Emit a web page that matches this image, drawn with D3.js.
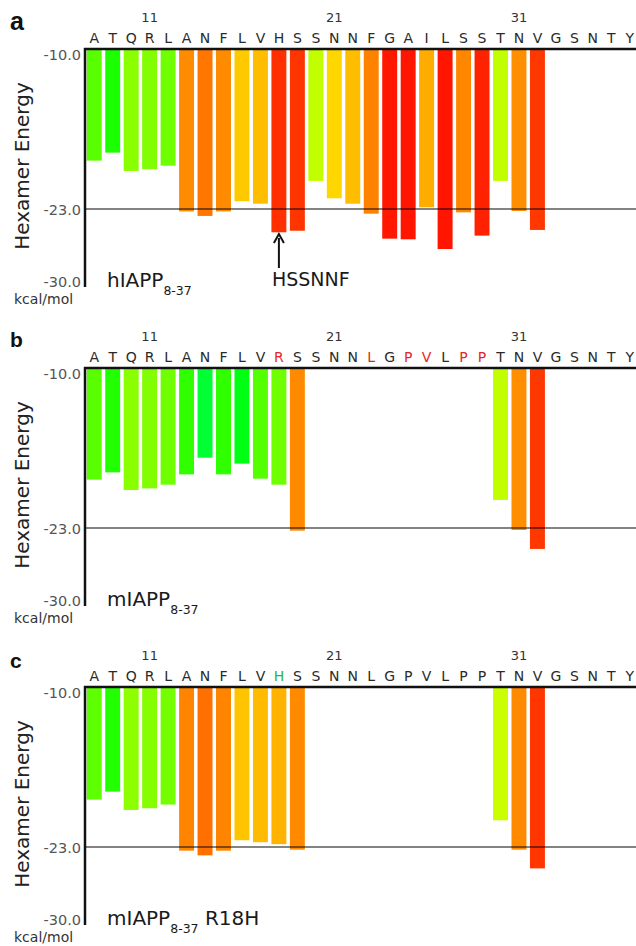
<!DOCTYPE html>
<html>
<head>
<meta charset="utf-8">
<script src="https://cdn.jsdelivr.net/npm/d3@7/dist/d3.min.js"></script>
<style>
  html, body { margin: 0; padding: 0; background: #fff; }
  svg { display: block; }
  text { font-family: "DejaVu Sans", Verdana, sans-serif; }
</style>
</head>
<body>
<svg id="chart" width="636" height="946"></svg>
<script>
// Sequences (residues 8-37)
const seqHuman   = ["A","T","Q","R","L","A","N","F","L","V","H","S","S","N","N","F","G","A","I","L","S","S","T","N","V","G","S","N","T","Y"];
const seqMouse   = ["A","T","Q","R","L","A","N","F","L","V","R","S","S","N","N","L","G","P","V","L","P","P","T","N","V","G","S","N","T","Y"];
const seqR18H    = ["A","T","Q","R","L","A","N","F","L","V","H","S","S","N","N","L","G","P","V","L","P","P","T","N","V","G","S","N","T","Y"];

// Hexamer energies (kcal/mol); null = no hexamer reported
const energyHuman = [-19.07,-18.42,-19.91,-19.77,-19.48,-23.22,-23.62,-23.22,-22.37,-22.57,
                     -25.09,-24.95,-20.72,-22.13,-22.57,-23.42,-25.66,-25.72,-22.86,-26.59,
                     -23.30,-25.39,-20.72,-23.18,-24.88,null,null,null,null,null];
const energyMouse = [-19.07,-18.48,-19.91,-19.78,-19.48,-18.64,-17.29,-18.64,-17.77,-18.99,
                     -19.48,-23.24,null,null,null,null,null,null,null,null,
                     null,null,-20.72,-23.18,-24.88,null,null,null,null,null];
const energyR18H  = [-19.15,-18.50,-19.99,-19.85,-19.55,-23.33,-23.75,-23.33,-22.45,-22.61,
                     -22.77,-23.24,null,null,null,null,null,null,null,null,
                     null,null,-20.83,-23.24,-24.92,null,null,null,null,null];

// Residue numbers marked above the sequence, first residue number, axis ticks
const residueMarks = [11, 21, 31];
const firstResidue = 8;
const yTicks = [-10, -23, -30];
const threshold = -23;

// Residues differing from the human sequence (red) and the back-mutation (green)
const mouseMutations = [10, 15, 17, 18, 20, 21];
const r18hMutations = [10];

const panels = [
  { tag: "a", seq: seqHuman, energy: energyHuman, name: "hIAPP", sub: "8-37", suffix: "", marks: [], markColor: null, top: 49, tagSize: 25, tagBase: 30 },
  { tag: "b", seq: seqMouse, energy: energyMouse, name: "mIAPP", sub: "8-37", suffix: "", marks: mouseMutations, markColor: "#e32626", top: 368, tagSize: 21, tagBase: 347 },
  { tag: "c", seq: seqR18H,  energy: energyR18H,  name: "mIAPP", sub: "8-37", suffix: " R18H", marks: r18hMutations, markColor: "#2fb52f", top: 687, tagSize: 21, tagBase: 668 }
];

const svg = d3.select("#chart");
const W = 636;
const axisX = 85;

const x = d3.scaleBand()
  .domain(d3.range(seqHuman.length))
  .range([axisX, axisX + 554])
  .paddingInner(0.19)
  .paddingOuter(0.095);

// Vertical scale relative to panel top (axis drawn non-uniformly below the -23 line)
const y = d3.scaleLinear().domain([-10, -23, -30]).range([0, 160, 238]);

// Energy -> hue colour coding (green = weak, red = strong)
const hue = d3.scaleLinear()
  .domain([-17.3, -18.5, -19.0, -19.9, -20.7, -22.1, -22.9, -23.2, -23.6, -24.9, -25.7])
  .range([132, 112, 100, 88, 75, 51, 40, 33, 28, 13, 5])
  .clamp(true);
const colorOf = v => d3.hsl(hue(v), 1, 0.5).formatHex();

panels.forEach(p => {
  const g = svg.append("g").attr("transform", `translate(0,${p.top})`);

  // panel tag
  svg.append("text")
    .attr("x", 10).attr("y", p.tagBase)
    .style("font-family", "'Liberation Sans', Arial, sans-serif")
    .style("font-weight", "bold")
    .style("font-size", p.tagSize + "px")
    .attr("fill", "#111")
    .text(p.tag);

  // residue numbers
  g.selectAll("text.num").data(residueMarks).enter().append("text")
    .attr("class", "num")
    .attr("x", d => x(d - firstResidue) + x.bandwidth() / 2)
    .attr("y", -27)
    .attr("text-anchor", "middle")
    .style("font-size", "13px")
    .attr("fill", "#333")
    .text(d => d);

  // sequence letters
  g.selectAll("text.res").data(p.seq).enter().append("text")
    .attr("class", "res")
    .attr("x", (d, i) => x(i) + x.bandwidth() / 2)
    .attr("y", -6)
    .attr("text-anchor", "middle")
    .style("font-size", "14px")
    .attr("fill", (d, i) => p.marks.includes(i) ? p.markColor : "#2a2a2a")
    .text(d => d);

  // bars
  const data = p.energy.map((v, i) => ({ i, v })).filter(d => d.v !== null);
  g.selectAll("rect.bar").data(data).enter().append("rect")
    .attr("class", "bar")
    .attr("x", d => x(d.i))
    .attr("width", x.bandwidth())
    .attr("y", y(-10))
    .attr("height", d => y(d.v) - y(-10))
    .attr("fill", d => colorOf(d.v));

  // threshold line
  g.append("line")
    .attr("x1", axisX).attr("x2", W)
    .attr("y1", y(threshold)).attr("y2", y(threshold))
    .attr("stroke", "rgba(0,0,0,0.65)")
    .attr("stroke-width", 1.6);

  // top axis line and left axis
  g.append("line")
    .attr("x1", axisX - 1).attr("x2", W)
    .attr("y1", y(-10)).attr("y2", y(-10))
    .attr("stroke", "#111").attr("stroke-width", 2.5);

  const yAxis = d3.axisLeft(y).tickValues(yTicks).tickSize(0).tickPadding(4)
    .tickFormat(d => d.toFixed(1));
  const ax = g.append("g").attr("transform", `translate(${axisX},0)`).call(yAxis);
  ax.select(".domain").attr("stroke", "#111").attr("stroke-width", 2.5).attr("d", `M0,${y(-10) - 1}V${y(-30)}`);
  ax.selectAll(".tick text")
    .style("font-family", "'DejaVu Sans', Verdana, sans-serif")
    .style("font-size", "14.5px")
    .attr("fill", "#555")
    .attr("dy", d => d === -10 ? "0.72em" : d === -30 ? "-0.05em" : "0.36em");

  // axis title and unit
  g.append("text")
    .attr("transform", `translate(29,117) rotate(-90)`)
    .attr("text-anchor", "middle")
    .style("font-size", "20px")
    .attr("fill", "#222")
    .text("Hexamer Energy");
  g.append("text")
    .attr("x", 14).attr("y", 255)
    .style("font-size", "14px")
    .attr("fill", "#333")
    .text("kcal/mol");

  // peptide label
  const lab = g.append("text")
    .attr("x", 107).attr("y", 238)
    .style("font-size", "20px")
    .attr("fill", "#1a1a1a");
  lab.append("tspan").text(p.name);
  lab.append("tspan").attr("dy", 8).style("font-size", "12.5px").text(p.sub);
  if (p.suffix) lab.append("tspan").attr("dy", -8).text(p.suffix);
});

// Annotation of the HSSNNF segment in the human panel
{
  const top = panels[0].top;
  const hx = x(10) + x.bandwidth() / 2;
  const g = svg.append("g").attr("transform", `translate(0,${top})`);
  g.append("line")
    .attr("x1", hx).attr("x2", hx)
    .attr("y1", 219).attr("y2", 189)
    .attr("stroke", "#111").attr("stroke-width", 2);
  g.append("path")
    .attr("d", `M${hx - 5},${194}L${hx},${185}L${hx + 5},${194}`)
    .attr("fill", "none").attr("stroke", "#111").attr("stroke-width", 2);
  g.append("text")
    .attr("x", hx - 7).attr("y", 237)
    .style("font-size", "19px")
    .attr("fill", "#1a1a1a")
    .text("HSSNNF");
}
</script>
</body>
</html>
